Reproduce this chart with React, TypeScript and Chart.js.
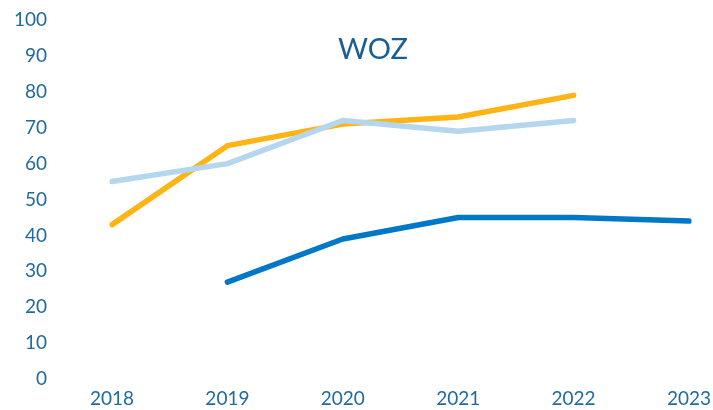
import React, { useEffect, useRef } from "react";
import { Chart, registerables } from "chart.js";

Chart.register(...registerables);

const categories = ["2018", "2019", "2020", "2021", "2022", "2023"];
const seriesLight = [55, 60, 72, 69, 72, null];
const seriesOrange = [43, 65, 71, 73, 79, null];
const seriesDark = [null, 27, 39, 45, 45, 44];
const titleText = "WOZ";

const labelColor = "#1f6a9e";

const titlePlugin = {
  id: "insideTitle",
  afterDraw(chart: any) {
    const ctx = chart.ctx;
    ctx.save();
    ctx.font = "29px Lato";
    ctx.fillStyle = "#1a5f91";
    ctx.textAlign = "center";
    ctx.textBaseline = "middle";
    ctx.fillText(titleText, 373, 50);
    ctx.restore();
  },
};

export default function App() {
  const ref = useRef<HTMLCanvasElement>(null);
  useEffect(() => {
    if (!ref.current) return;
    const common = { borderWidth: 5.5, pointRadius: 0, borderCapStyle: "round" as const, borderJoinStyle: "round" as const, tension: 0 };
    const chart = new Chart(ref.current, {
      type: "line",
      data: {
        labels: categories,
        datasets: [
          { data: seriesLight, borderColor: "#b5d6ef", ...common },
          { data: seriesOrange, borderColor: "#ffb415", ...common },
          { data: seriesDark, borderColor: "#0078c7", ...common },
        ],
      },
      options: {
        animation: false,
        responsive: true,
        maintainAspectRatio: false,
        layout: { padding: { top: 20, right: 24, bottom: 0, left: 0 } },
        plugins: { legend: { display: false }, tooltip: { enabled: false }, title: { display: false } },
        scales: {
          x: {
            offset: false,
            grid: { display: false, drawTicks: false },
            border: { display: false },
            ticks: { color: labelColor, font: { family: "Lato", size: 19 }, padding: 8, maxRotation: 0, autoSkip: false },
            afterFit(scale: any) { scale.height = 31; scale.paddingRight = 0; scale.paddingLeft = 0; },
          },
          y: {
            min: 0,
            max: 100,
            grid: { display: false, drawTicks: false },
            border: { display: false },
            ticks: { stepSize: 10, color: labelColor, font: { family: "Lato", size: 19 }, padding: 65 },
            afterFit(scale: any) { scale.width = 112; scale.paddingTop = 0; scale.paddingBottom = 0; },
          },
        },
      },
      plugins: [titlePlugin],
    });
    return () => chart.destroy();
  }, []);
  return (
    <div style={{ position: "fixed", left: 0, top: 0, width: 713, height: 410, background: "#fff" }}>
      <canvas ref={ref} />
    </div>
  );
}
